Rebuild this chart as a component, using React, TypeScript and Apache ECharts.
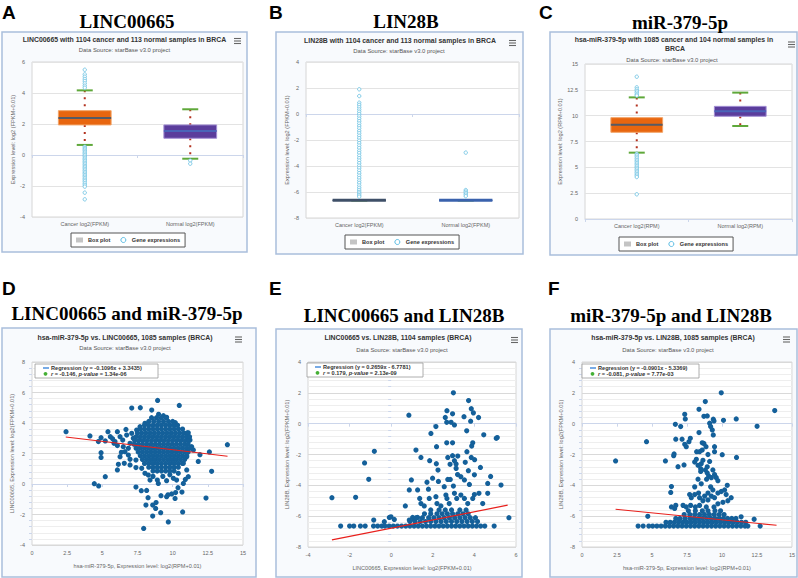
import React, { useEffect, useRef } from 'react';
import * as echarts from 'echarts';

const SANS = '"Liberation Sans", Arial, sans-serif';
const SERIF = '"Liberation Serif", "Times New Roman", serif';

// ---------------- DATA ----------------
const catsFPKM = ['Cancer log2(FPKM)', 'Normal log2(FPKM)'];
const catsRPM = ['Cancer log2(RPM)', 'Normal log2(RPM)'];

// [lower whisker, Q1, median, Q3, upper whisker]
const boxA = [[0.65, 1.94, 2.38, 2.86, 4.17], [-0.24, 1.08, 1.55, 1.94, 2.95]];
const outA_cancer = [5.5, 5.2, 5.05, 4.9, 4.77, 4.62, 4.47, 4.34, 0.54, 0.45, 0.36, 0.27, 0.17, 0.08, -0.02, -0.12, -0.22, -0.31, -0.41, -0.51, -0.61, -0.71, -0.8, -0.9, -1.0, -1.1, -1.2, -1.3, -1.4, -1.5, -1.6, -1.7, -1.82, -1.93, -2.04, -2.43, -2.86];
const outA_normal = [-0.36, -0.56];

const boxB = [[-6.64, -6.64, -6.64, -6.64, -6.64], [-6.64, -6.64, -6.64, -6.64, -6.64]];
const outB_cancer = [1.9, 1.38, 0.87, 0.7, 0.52, 0.35, 0.18, 0.0, -0.18, -0.36, -0.55, -0.73, -0.92, -1.1, -1.3, -1.48, -1.67, -1.86, -2.05, -2.24, -2.43, -2.62, -2.82, -3.0, -3.2, -3.4, -3.58, -3.78, -3.97, -4.16, -4.35, -4.55, -4.74, -4.93, -5.12, -5.3, -5.5, -5.68, -5.85, -6.0, -6.12, -6.24, -6.36];
const outB_normal = [-2.97, -5.85, -5.97, -6.08, -6.2, -6.32];

const boxC = [[6.42, 8.39, 9.13, 9.81, 11.77], [9.0, 9.94, 10.42, 10.9, 12.23]];
const outC_cancer = [13.77, 12.74, 12.55, 12.39, 12.23, 12.06, 11.94, 6.32, 6.18, 6.02, 5.86, 5.7, 5.55, 5.4, 5.25, 5.1, 4.95, 4.8, 4.65, 4.5, 4.35, 4.2, 4.06, 2.39];
const outC_normal: number[] = [];

// regression: [slope, intercept, xStart, xEnd]
const regD = [-0.1096, 3.3435, 2.4, 13.9];
const regE = [0.2659, -6.7781, -2.85, 5.6];
const regF = [-0.0901, -5.3369, 2.4, 13.9];

// D: hsa-miR-379-5p (x) vs LINC00665 (y)
const D_sparse = [[2.42,3.43],[4.12,3.15],[4.72,2.78],[4.91,3.04],[5.40,3.43],[5.57,3.10],[6.07,3.43],[6.68,3.58],[4.91,2.05],[4.91,1.74],[5.21,0.48],[4.43,0.02],[4.74,-0.13],[6.07,0.92],[6.14,1.29],[6.56,1.36],[6.26,1.79],[6.35,2.08],[6.07,2.52],[5.90,2.78],[7.09,4.98],[7.70,5.00],[8.93,5.48],[10.47,5.15],[8.51,4.85],[9.00,4.57],[9.34,4.48],[9.57,4.37],[10.19,4.02],[7.39,-0.20],[7.77,-0.44],[8.15,-0.42],[8.25,-0.90],[8.10,-1.38],[8.58,-1.38],[8.82,-1.22],[8.79,-1.60],[8.58,-2.10],[7.94,-2.91],[9.15,-1.88],[9.69,-2.49],[9.17,-0.77],[9.57,-0.83],[9.67,-0.71],[9.93,-0.65],[10.21,-0.56],[10.17,-0.95],[10.38,-0.24],[10.66,-0.53],[10.71,-1.83],[12.37,-0.92],[12.77,0.83],[12.61,2.10],[13.89,2.58],[11.94,1.92],[11.82,1.48],[11.11,0.48],[11.00,0.92],[10.76,0.04],[10.28,0.26],[10.05,0.37],[9.57,0.22],[8.98,0.04],[8.91,0.26],[8.39,0.26],[8.27,0.59],[8.03,0.70],[7.80,1.03],[7.39,1.08],[6.97,1.25],[7.39,1.57],[6.97,1.62],[6.85,1.90],[6.49,2.45],[6.61,2.12],[6.85,2.34],[6.97,2.67],[7.20,3.00],[7.09,3.32],[7.44,3.54],[7.68,3.76],[8.03,3.98],[11.00,3.32],[11.11,3.36],[11.23,2.88],[11.35,2.45],[11.47,2.23],[11.00,1.79],[10.76,1.36],[5.21,2.82],[5.73,2.97],[6.26,3.10],[6.45,2.88],[6.73,3.21],[5.83,2.67],[9.8,0.6],[10.4,0.7],[10.9,0.3],[8.6,0.5],[9.3,0.5]];
// dense core, rows of [y, x values]
const D_dense: [number, number[]][] = [
  [4.35, [8.5, 8.85, 9.2, 9.55]],
  [4.1, [8.3, 8.65, 9.0, 9.35, 9.7, 10.0]],
  [3.85, [8.0, 8.3, 8.6, 8.9, 9.2, 9.5, 9.8, 10.1, 10.35]],
  [3.6, [7.7, 8.0, 8.3, 8.6, 8.9, 9.2, 9.5, 9.8, 10.1, 10.4, 10.7]],
  [3.35, [7.5, 7.8, 8.1, 8.4, 8.7, 9.0, 9.3, 9.6, 9.9, 10.2, 10.5, 10.8, 11.05]],
  [3.1, [7.4, 7.7, 8.0, 8.3, 8.6, 8.9, 9.2, 9.5, 9.8, 10.1, 10.4, 10.7, 11.0, 11.2]],
  [2.85, [7.3, 7.6, 7.9, 8.2, 8.5, 8.8, 9.1, 9.4, 9.7, 10.0, 10.3, 10.6, 10.9, 11.15]],
  [2.6, [7.25, 7.55, 7.85, 8.15, 8.45, 8.75, 9.05, 9.35, 9.65, 9.95, 10.25, 10.55, 10.85, 11.1]],
  [2.35, [7.4, 7.7, 8.0, 8.3, 8.6, 8.9, 9.2, 9.5, 9.8, 10.1, 10.4, 10.7, 11.0, 11.25]],
  [2.1, [7.55, 7.85, 8.15, 8.45, 8.75, 9.05, 9.35, 9.65, 9.95, 10.25, 10.55, 10.85, 11.1]],
  [1.85, [7.7, 8.0, 8.3, 8.6, 8.9, 9.2, 9.5, 9.8, 10.1, 10.4, 10.7, 11.0]],
  [1.6, [7.85, 8.15, 8.45, 8.75, 9.05, 9.35, 9.65, 9.95, 10.25, 10.55, 10.85]],
  [1.35, [8.0, 8.3, 8.6, 8.9, 9.2, 9.5, 9.8, 10.1, 10.4, 10.7]],
  [1.1, [8.3, 8.6, 8.9, 9.2, 9.5, 9.8, 10.1, 10.4]],
  [0.85, [8.6, 8.9, 9.2, 9.5, 9.8, 10.1]],
];

// E: LINC00665 (x) vs LIN28B (y)
const E_sparse = [[-2.85,-4.80],[-1.71,-4.78],[-1.28,-2.55],[-1.08,-3.61],[-0.81,-1.79],[0.85,0.55],[2.99,2.0],[3.72,1.50],[2.68,0.84],[2.95,0.64],[3.85,0.97],[3.95,0.70],[4.20,0.40],[3.50,0.45],[2.60,0.40],[2.67,0.09],[2.88,0.09],[3.04,-0.08],[2.15,-0.19],[1.91,-0.63],[3.63,-0.46],[3.82,0.16],[4.45,-0.72],[5.05,-0.95],[5.10,-0.90],[2.18,-1.49],[2.67,-1.24],[2.95,-1.24],[3.92,-1.24],[3.87,-1.45],[3.64,-1.82],[1.19,-1.71],[1.43,-2.19],[1.85,-2.40],[2.17,-2.60],[2.25,-3.01],[2.72,-2.19],[2.95,-2.08],[3.04,-2.40],[3.12,-2.61],[3.56,-2.51],[3.85,-2.19],[4.01,-2.34],[4.29,-2.84],[4.78,-3.42],[5.28,-3.98],[4.64,-3.88],[0.97,-3.65],[0.87,-4.30],[1.27,-4.30],[1.72,-3.80],[1.79,-4.25],[1.99,-3.54],[2.27,-3.75],[2.55,-4.09],[2.72,-3.62],[2.84,-3.62],[2.99,-4.05],[3.19,-3.30],[3.35,-3.44],[3.52,-3.65],[3.71,-3.05],[3.76,-3.94],[4.00,-3.32],[4.00,-4.60],[4.22,-4.52],[0.68,-5.34],[1.37,-4.85],[1.43,-5.18],[1.59,-5.34],[1.83,-4.85],[2.15,-4.74],[2.20,-5.18],[2.39,-5.34],[2.63,-4.63],[2.68,-4.85],[2.79,-5.18],[3.04,-4.52],[3.15,-4.85],[3.35,-4.63],[3.52,-4.85],[3.68,-5.18],[3.92,-4.85],[4.40,-5.18],[4.64,-4.52],[-0.84,-6.25],[-0.33,-6.36],[-0.09,-6.08],[-0.01,-6.04],[0.15,-6.21],[0.87,-6.25],[1.03,-6.08],[1.11,-6.25],[1.27,-6.08],[5.66,-6.10],[2.83,-2.64],[3.12,-2.90],[3.20,-2.10]];
const E_dense: [number, number[]][] = [
  [-6.35, [0.9, 1.15, 1.4, 1.65, 1.9, 2.15, 2.4, 2.65, 2.9, 3.15, 3.4, 3.65, 3.9, 4.15]],
  [-6.1, [1.2, 1.5, 1.8, 2.05, 2.3, 2.55, 2.8, 3.05, 3.3, 3.55, 3.8, 4.05]],
  [-5.85, [1.6, 1.9, 2.2, 2.45, 2.7, 2.95, 3.2, 3.45, 3.7]],
  [-5.6, [1.9, 2.3, 2.6, 2.9, 3.3, 3.6]],
  [-6.64, [-2.43, -2.0, -1.8, -1.48, -1.25, -0.85, -0.65, -0.45, -0.3, -0.1, 0.1, 0.3, 0.5, 0.7, 0.9, 1.1, 1.3, 1.5, 1.7, 1.9, 2.1, 2.3, 2.5, 2.7, 2.9, 3.1, 3.3, 3.5, 3.7, 3.9, 4.1, 4.3, 4.5, 4.95]],
];

// F: hsa-miR-379-5p (x) vs LIN28B (y)
const F_sparse = [[2.40,-2.42],[4.61,-1.17],[5.96,-2.42],[4.70,-6.01],[9.95,2.0],[13.77,0.85],[12.51,-0.17],[11.02,0.31],[10.11,0.22],[8.81,1.43],[8.36,0.93],[8.71,0.48],[8.95,0.50],[9.38,0.29],[9.43,0.18],[7.34,0.61],[7.38,0.31],[6.67,-0.04],[7.05,-0.19],[6.70,-1.01],[7.15,-1.01],[7.74,-0.95],[7.64,-1.17],[7.34,-1.34],[7.45,-1.49],[6.58,-1.96],[6.55,-2.08],[6.86,-2.79],[7.29,-2.68],[8.36,-0.58],[8.59,-1.24],[8.71,-1.28],[8.86,-1.49],[9.12,0.03],[9.19,-0.19],[9.31,-0.41],[9.38,-0.73],[9.47,-1.49],[9.47,-1.82],[8.40,-1.82],[8.59,-1.71],[8.19,-1.82],[8.17,-2.31],[8.05,-2.49],[8.29,-2.70],[8.52,-2.60],[8.64,-2.38],[8.48,-2.92],[10.02,-2.01],[11.04,-2.19],[6.39,-4.08],[6.34,-4.46],[8.81,-3.0],[8.95,-3.2],[9.05,-3.4],[8.90,-3.6],[9.24,-3.5],[9.47,-3.3],[9.59,-3.5],[9.71,-3.7],[9.19,-4.1],[9.35,-4.3],[9.0,-4.5],[8.76,-4.7],[8.33,-4.5],[8.05,-4.1],[8.29,-3.6],[8.52,-3.9],[8.05,-4.6],[7.69,-4.6],[7.81,-4.8],[8.40,-4.8],[8.64,-5.0],[9.0,-4.95],[9.24,-4.7],[9.47,-4.8],[9.71,-4.5],[9.95,-4.4],[10.19,-4.3],[10.38,-4.0],[10.3,-4.6],[10.42,-5.0],[10.66,-4.8],[10.07,-5.1],[9.71,-5.2],[9.43,-5.4],[8.88,-5.4],[8.40,-5.3],[8.10,-5.4],[7.76,-5.3],[7.45,-5.4],[7.22,-5.3],[6.70,-5.3],[6.62,-5.5],[6.39,-5.4],[9.0,-2.0],[9.12,-2.45],[8.95,-2.8],[8.48,-3.1],[9.35,-3.0],[11.37,-6.04],[12.3,-6.2]];
const F_dense: [number, number[]][] = [
  [-6.4, [6.0, 6.3, 6.6, 6.9, 7.2, 7.5, 7.8, 8.1, 8.4, 8.7, 9.0, 9.3, 9.6, 9.9, 10.2, 10.5, 10.8, 11.1, 11.4, 11.7]],
  [-6.15, [6.7, 7.0, 7.35, 7.7, 8.0, 8.3, 8.6, 8.9, 9.2, 9.5, 9.8, 10.1, 10.4, 10.7, 11.0]],
  [-5.9, [7.3, 7.7, 8.05, 8.4, 8.75, 9.1, 9.45, 9.8, 10.15]],
  [-5.65, [7.6, 8.1, 8.6, 9.0, 9.5, 9.9]],
  [-6.64, [4.01, 4.37, 4.77, 5.05, 5.35, 5.65, 5.95, 6.25, 6.55, 6.85, 7.15, 7.45, 7.75, 8.05, 8.35, 8.65, 8.95, 9.25, 9.55, 9.85, 10.15, 10.45, 10.75, 11.05, 11.35, 11.65, 11.85, 12.73]],
];

// ---------------- helpers ----------------
const flatRows = (rows: [number, number[]][]) => rows.flatMap(([y, xs]) => xs.map((x) => [x, y]));
const outPts = (c: number[], n: number[]) => [...c.map((v) => [0, v]), ...n.map((v) => [1, v])];
const regLine = (r: number[]) => [[r[2], r[0] * r[2] + r[1]], [r[3], r[0] * r[3] + r[1]]];

const STY_AC = [
  { fill: '#e8660f', stroke: '#f2a467', median: '#555b66', mw: 2 },
  { fill: '#5b3d9c', stroke: '#a28ed3', median: '#4a64b8', mw: 2 },
];
const STY_B = [
  { fill: '#3f5068', stroke: '#3f5068', median: '#3f5068', mw: 3 },
  { fill: '#3a62ad', stroke: '#3a62ad', median: '#3a62ad', mw: 3 },
];

function boxRender(styles: any[]) {
  return (params: any, api: any) => {
    const s = styles[params.dataIndex];
    const c = api.value(0);
    const lo = api.coord([c, api.value(1)]);
    const q1 = api.coord([c, api.value(2)]);
    const md = api.coord([c, api.value(3)]);
    const q3 = api.coord([c, api.value(4)]);
    const hi = api.coord([c, api.value(5)]);
    const bw = api.size([1, 0])[0] * 0.5;
    const cx = lo[0];
    const cap = 8;
    const dot = { stroke: '#b3321f', lineWidth: 2, lineDash: [2, 5] };
    return {
      type: 'group',
      children: [
        { type: 'line', shape: { x1: cx, y1: hi[1], x2: cx, y2: q3[1] }, style: dot },
        { type: 'line', shape: { x1: cx, y1: q1[1], x2: cx, y2: lo[1] }, style: dot },
        { type: 'line', shape: { x1: cx - cap, y1: hi[1], x2: cx + cap, y2: hi[1] }, style: { stroke: '#5fa83a', lineWidth: 2 } },
        { type: 'line', shape: { x1: cx - cap, y1: lo[1], x2: cx + cap, y2: lo[1] }, style: { stroke: '#5fa83a', lineWidth: 2 } },
        { type: 'rect', shape: { x: cx - bw / 2, y: q3[1], width: bw, height: q1[1] - q3[1] }, style: { fill: s.fill, stroke: s.stroke, lineWidth: 1 } },
        { type: 'line', shape: { x1: cx - bw / 2, y1: md[1], x2: cx + bw / 2, y2: md[1] }, style: { stroke: s.median, lineWidth: s.mw } },
      ],
    };
  };
}

const txt = (text: string, x: number, y: number, o: any = {}) => ({
  type: 'text', z: 30, x, y,
  style: {
    text, fill: o.color || '#333', fontSize: o.size || 6, fontWeight: o.weight || 'normal',
    fontFamily: o.family || SANS, align: o.align || 'center', verticalAlign: 'middle',
    textAlign: o.align || 'center', textVerticalAlign: 'middle', rich: o.rich,
  },
});

const menu = (x: number, y: number) => [0, 2.5, 5].map((dy) => ({
  type: 'line', z: 30, shape: { x1: x, y1: y + dy, x2: x + 7, y2: y + dy }, style: { stroke: '#666', lineWidth: 1.1 },
}));

const panel = (x: number, y: number, w: number, h: number) => ({
  type: 'rect', z: -5, shape: { x, y, width: w, height: h },
  style: { fill: '#f8fafd', stroke: '#a9bedc', lineWidth: 1.5 },
});

const regLegend = (x: number, y: number, w: number, l1: string, r: string, p: string) => {
  const base = { fontSize: 5.6, fontWeight: 'bold', fontFamily: SANS, fill: '#333' };
  return [
    { type: 'rect', z: 40, shape: { x, y, width: w, height: 14 }, style: { fill: '#ffffff', stroke: '#999', lineWidth: 0.8 } },
    { type: 'line', z: 41, shape: { x1: x + 8, y1: y + 4, x2: x + 14, y2: y + 4 }, style: { stroke: '#2f7ed8', lineWidth: 1.3 } },
    { type: 'circle', z: 41, shape: { cx: x + 10.5, cy: y + 9.8, r: 1.9 }, style: { fill: '#45b035' } },
    { type: 'text', z: 41, x: x + 16, y: y + 4, style: { ...base, text: l1, align: 'left', verticalAlign: 'middle', textAlign: 'left', textVerticalAlign: 'middle' } },
    { type: 'text', z: 41, x: x + 16, y: y + 10, style: { ...base, text: `{i|r} = ${r}, {i|p-value} = ${p}`, align: 'left', verticalAlign: 'middle', textAlign: 'left', textVerticalAlign: 'middle', rich: { i: { ...base, fontStyle: 'italic' } } } },
  ];
};

const axisLabel = { fontSize: 5.5, color: '#666', fontFamily: SANS };
const nameStyle = { fontSize: 5.6, color: '#666', fontFamily: SANS };

function catX(gi: number, data: string[]) {
  return {
    type: 'category', gridIndex: gi, data, boundaryGap: true,
    axisLine: { lineStyle: { color: '#ccd6eb' } },
    axisTick: { show: true, length: 3, lineStyle: { color: '#ccd6eb' } },
    axisLabel: { ...axisLabel, margin: 4 }, splitLine: { show: false },
  };
}
function valX(gi: number, min: number, max: number, interval: number, name: string) {
  return {
    type: 'value', gridIndex: gi, min, max, interval,
    axisLine: { show: true, lineStyle: { color: '#ccd6eb' } },
    axisTick: { show: true, length: 3, lineStyle: { color: '#ccd6eb' } },
    axisLabel: { ...axisLabel, margin: 5 }, splitLine: { show: false },
    name, nameLocation: 'middle', nameGap: 18, nameTextStyle: nameStyle,
  };
}
function valY(gi: number, min: number, max: number, interval: number, name: string, gap: number, minor: boolean) {
  return {
    type: 'value', gridIndex: gi, min, max, interval,
    axisLine: { show: false }, axisTick: { show: false },
    axisLabel: { ...axisLabel, margin: 7 },
    splitLine: { lineStyle: { color: minor ? '#d9d9d9' : '#e3e3e3' } },
    minorTick: { show: minor, splitNumber: 5, length: 3, lineStyle: { color: '#ccd6eb' } },
    minorSplitLine: { show: minor, lineStyle: { color: '#eeeeee' } },
    name, nameLocation: 'middle', nameGap: gap, nameTextStyle: nameStyle,
  };
}

const boxLegend = (left: number, top: number) => ({
  left, top, orient: 'horizontal', itemWidth: 7, itemHeight: 5, itemGap: 10,
  padding: [4, 5], borderColor: '#555', borderWidth: 1, backgroundColor: '#fff',
  selectedMode: false,
  textStyle: { fontSize: 5.6, fontWeight: 'bold', color: '#333', fontFamily: SANS },
  data: [
    { name: 'Box plot', icon: 'rect', itemStyle: { color: '#c4c4c4' } },
    { name: 'Gene expressions', icon: 'circle', itemStyle: { color: '#ffffff', borderColor: '#5bbde3', borderWidth: 1 } },
  ],
});

export default function App() {
  const ref = useRef<HTMLDivElement>(null);
  useEffect(() => {
    if (!ref.current) return;
    const chart = echarts.init(ref.current, undefined, { renderer: 'svg' });

    const grids = [
      { left: 32, top: 62, width: 211, height: 155 },
      { left: 306, top: 62, width: 213, height: 156 },
      { left: 585, top: 64, width: 207, height: 155 },
      { left: 32, top: 362, width: 211, height: 183 },
      { left: 308, top: 362, width: 208, height: 185 },
      { left: 582, top: 362, width: 211, height: 185 },
    ].map((g) => ({ ...g, show: true, backgroundColor: '#ffffff', borderColor: '#d6d6d6', borderWidth: 1 }));

    const boxSeries = (gi: number, box: number[][], sty: any[], oc: number[], on: number[]) => [
      {
        type: 'custom', name: 'Box plot', xAxisIndex: gi, yAxisIndex: gi, z: 2,
        renderItem: boxRender(sty), encode: { x: 0, y: [1, 2, 3, 4, 5] },
        data: box.map((b, i) => [i, ...b]),
      },
      {
        type: 'scatter', name: 'Gene expressions', xAxisIndex: gi, yAxisIndex: gi, z: 3,
        symbol: 'circle', symbolSize: 3.4,
        itemStyle: { color: '#ffffff', borderColor: '#5fbde0', borderWidth: 0.8, opacity: 1 },
        data: outPts(oc, on),
      },
    ];
    const scatSeries = (gi: number, name: string, pts: number[][], reg: number[], rname: string) => [
      {
        type: 'scatter', name, xAxisIndex: gi, yAxisIndex: gi, z: 3, symbolSize: 5.2,
        itemStyle: { color: '#14609a', opacity: 1 }, data: pts,
      },
      {
        type: 'line', name: rname, xAxisIndex: gi, yAxisIndex: gi, z: 5, symbol: 'none',
        lineStyle: { color: '#e8201c', width: 1.2 }, data: regLine(reg),
      },
    ];

    const graphic = [
      panel(2, 32, 245, 220), panel(276, 32, 247, 222), panel(550, 32, 247, 223),
      panel(2, 328, 254, 249), panel(276, 329, 246, 248), panel(550, 329, 247, 248),
      txt('A', 2, 12, { size: 19, weight: 'bold', align: 'left', color: '#000' }),
      txt('B', 269, 12, { size: 19, weight: 'bold', align: 'left', color: '#000' }),
      txt('C', 539, 12, { size: 19, weight: 'bold', align: 'left', color: '#000' }),
      txt('D', 2, 288, { size: 19, weight: 'bold', align: 'left', color: '#000' }),
      txt('E', 269, 288, { size: 19, weight: 'bold', align: 'left', color: '#000' }),
      txt('F', 548, 288, { size: 19, weight: 'bold', align: 'left', color: '#000' }),
      txt('LINC00665', 127, 21, { size: 19, weight: 'bold', family: SERIF, color: '#000' }),
      txt('LIN28B', 406, 21, { size: 19, weight: 'bold', family: SERIF, color: '#000' }),
      txt('miR-379-5p', 680, 22, { size: 19, weight: 'bold', family: SERIF, color: '#000' }),
      txt('LINC00665 and miR-379-5p', 127, 313, { size: 19, weight: 'bold', family: SERIF, color: '#000' }),
      txt('LINC00665 and LIN28B', 404, 315, { size: 19, weight: 'bold', family: SERIF, color: '#000' }),
      txt('miR-379-5p and LIN28B', 671, 315, { size: 19, weight: 'bold', family: SERIF, color: '#000' }),
      txt('LINC00665 with 1104 cancer and 113 normal samples in BRCA', 124.5, 39, { size: 6.9, weight: 'bold' }),
      txt('Data Source: starBase v3.0 project', 124.5, 50, { size: 5.9, color: '#555' }),
      txt('LIN28B with 1104 cancer and 113 normal samples in BRCA', 400, 40, { size: 6.9, weight: 'bold' }),
      txt('Data Source: starBase v3.0 project', 399, 51, { size: 5.9, color: '#555' }),
      txt('hsa-miR-379-5p with 1085 cancer and 104 normal samples in', 674, 39, { size: 6.9, weight: 'bold' }),
      txt('BRCA', 675, 48.5, { size: 6.9, weight: 'bold' }),
      txt('Data Source: starBase v3.0 project', 672, 60, { size: 5.9, color: '#555' }),
      txt('hsa-miR-379-5p vs. LINC00665, 1085 samples (BRCA)', 125, 337, { size: 6.9, weight: 'bold' }),
      txt('Data Source: starBase v3.0 project', 125, 348, { size: 5.9, color: '#555' }),
      txt('LINC00665 vs. LIN28B, 1104 samples (BRCA)', 398, 337, { size: 6.9, weight: 'bold' }),
      txt('Data Source: starBase v3.0 project', 402, 350, { size: 5.9, color: '#555' }),
      txt('hsa-miR-379-5p vs. LIN28B, 1085 samples (BRCA)', 673, 337, { size: 6.9, weight: 'bold' }),
      txt('Data Source: starBase v3.0 project', 668, 350, { size: 5.9, color: '#555' }),
      ...menu(234, 38.5), ...menu(509, 40.5), ...menu(788, 42),
      ...menu(235, 337), ...menu(511, 337.5), ...menu(783, 337),
      ...regLegend(35, 364, 123, 'Regression (y = -0.1096x + 3.3435)', '-0.146', '1.34e-06'),
      ...regLegend(307, 363, 116, 'Regression (y = 0.2659x - 6.7781)', '0.179', '2.13e-09'),
      ...regLegend(582, 364, 117, 'Regression (y = -0.0901x - 5.3369)', '-0.081', '7.77e-03'),
    ];

    chart.setOption({
      animation: false,
      backgroundColor: '#ffffff',
      grid: grids,
      xAxis: [
        catX(0, catsFPKM), catX(1, catsFPKM), catX(2, catsRPM),
        valX(3, 0, 15, 2.5, 'hsa-miR-379-5p, Expression level: log2(RPM+0.01)'),
        valX(4, -4, 6, 2, 'LINC00665, Expression level: log2(FPKM+0.01)'),
        valX(5, 0, 15, 2.5, 'hsa-miR-379-5p, Expression level: log2(RPM+0.01)'),
      ],
      yAxis: [
        valY(0, -4, 6, 2, 'Expression level: log2 (FPKM+0.01)', 16, false),
        valY(1, -8, 4, 2, 'Expression level: log2 (FPKM+0.01)', 16, false),
        valY(2, 0, 15, 2.5, 'Expression level: log2 (RPM+0.01)', 20, false),
        valY(3, -4, 8, 2, 'LINC00665, Expression level: log2(FPKM+0.01)', 17, true),
        valY(4, -8, 4, 2, 'LIN28B, Expression level: log2(FPKM+0.01)', 18, true),
        valY(5, -8, 4, 2, 'LIN28B, Expression level: log2(FPKM+0.01)', 18, true),
      ],
      legend: [boxLegend(71, 233), boxLegend(345, 235), boxLegend(619, 237)],
      series: [
        ...boxSeries(0, boxA, STY_AC, outA_cancer, outA_normal),
        ...boxSeries(1, boxB, STY_B, outB_cancer, outB_normal),
        ...boxSeries(2, boxC, STY_AC, outC_cancer, outC_normal),
        ...scatSeries(3, 'r = -0.146, p-value = 1.34e-06', [...D_sparse, ...flatRows(D_dense)], regD, 'Regression (y = -0.1096x + 3.3435)'),
        ...scatSeries(4, 'r = 0.179, p-value = 2.13e-09', [...E_sparse, ...flatRows(E_dense)], regE, 'Regression (y = 0.2659x - 6.7781)'),
        ...scatSeries(5, 'r = -0.081, p-value = 7.77e-03', [...F_sparse, ...flatRows(F_dense)], regF, 'Regression (y = -0.0901x - 5.3369)'),
      ],
      graphic,
    });
    return () => chart.dispose();
  }, []);
  return <div ref={ref} style={{ position: 'fixed', left: 0, top: 0, width: 798, height: 578 }} />;
}
